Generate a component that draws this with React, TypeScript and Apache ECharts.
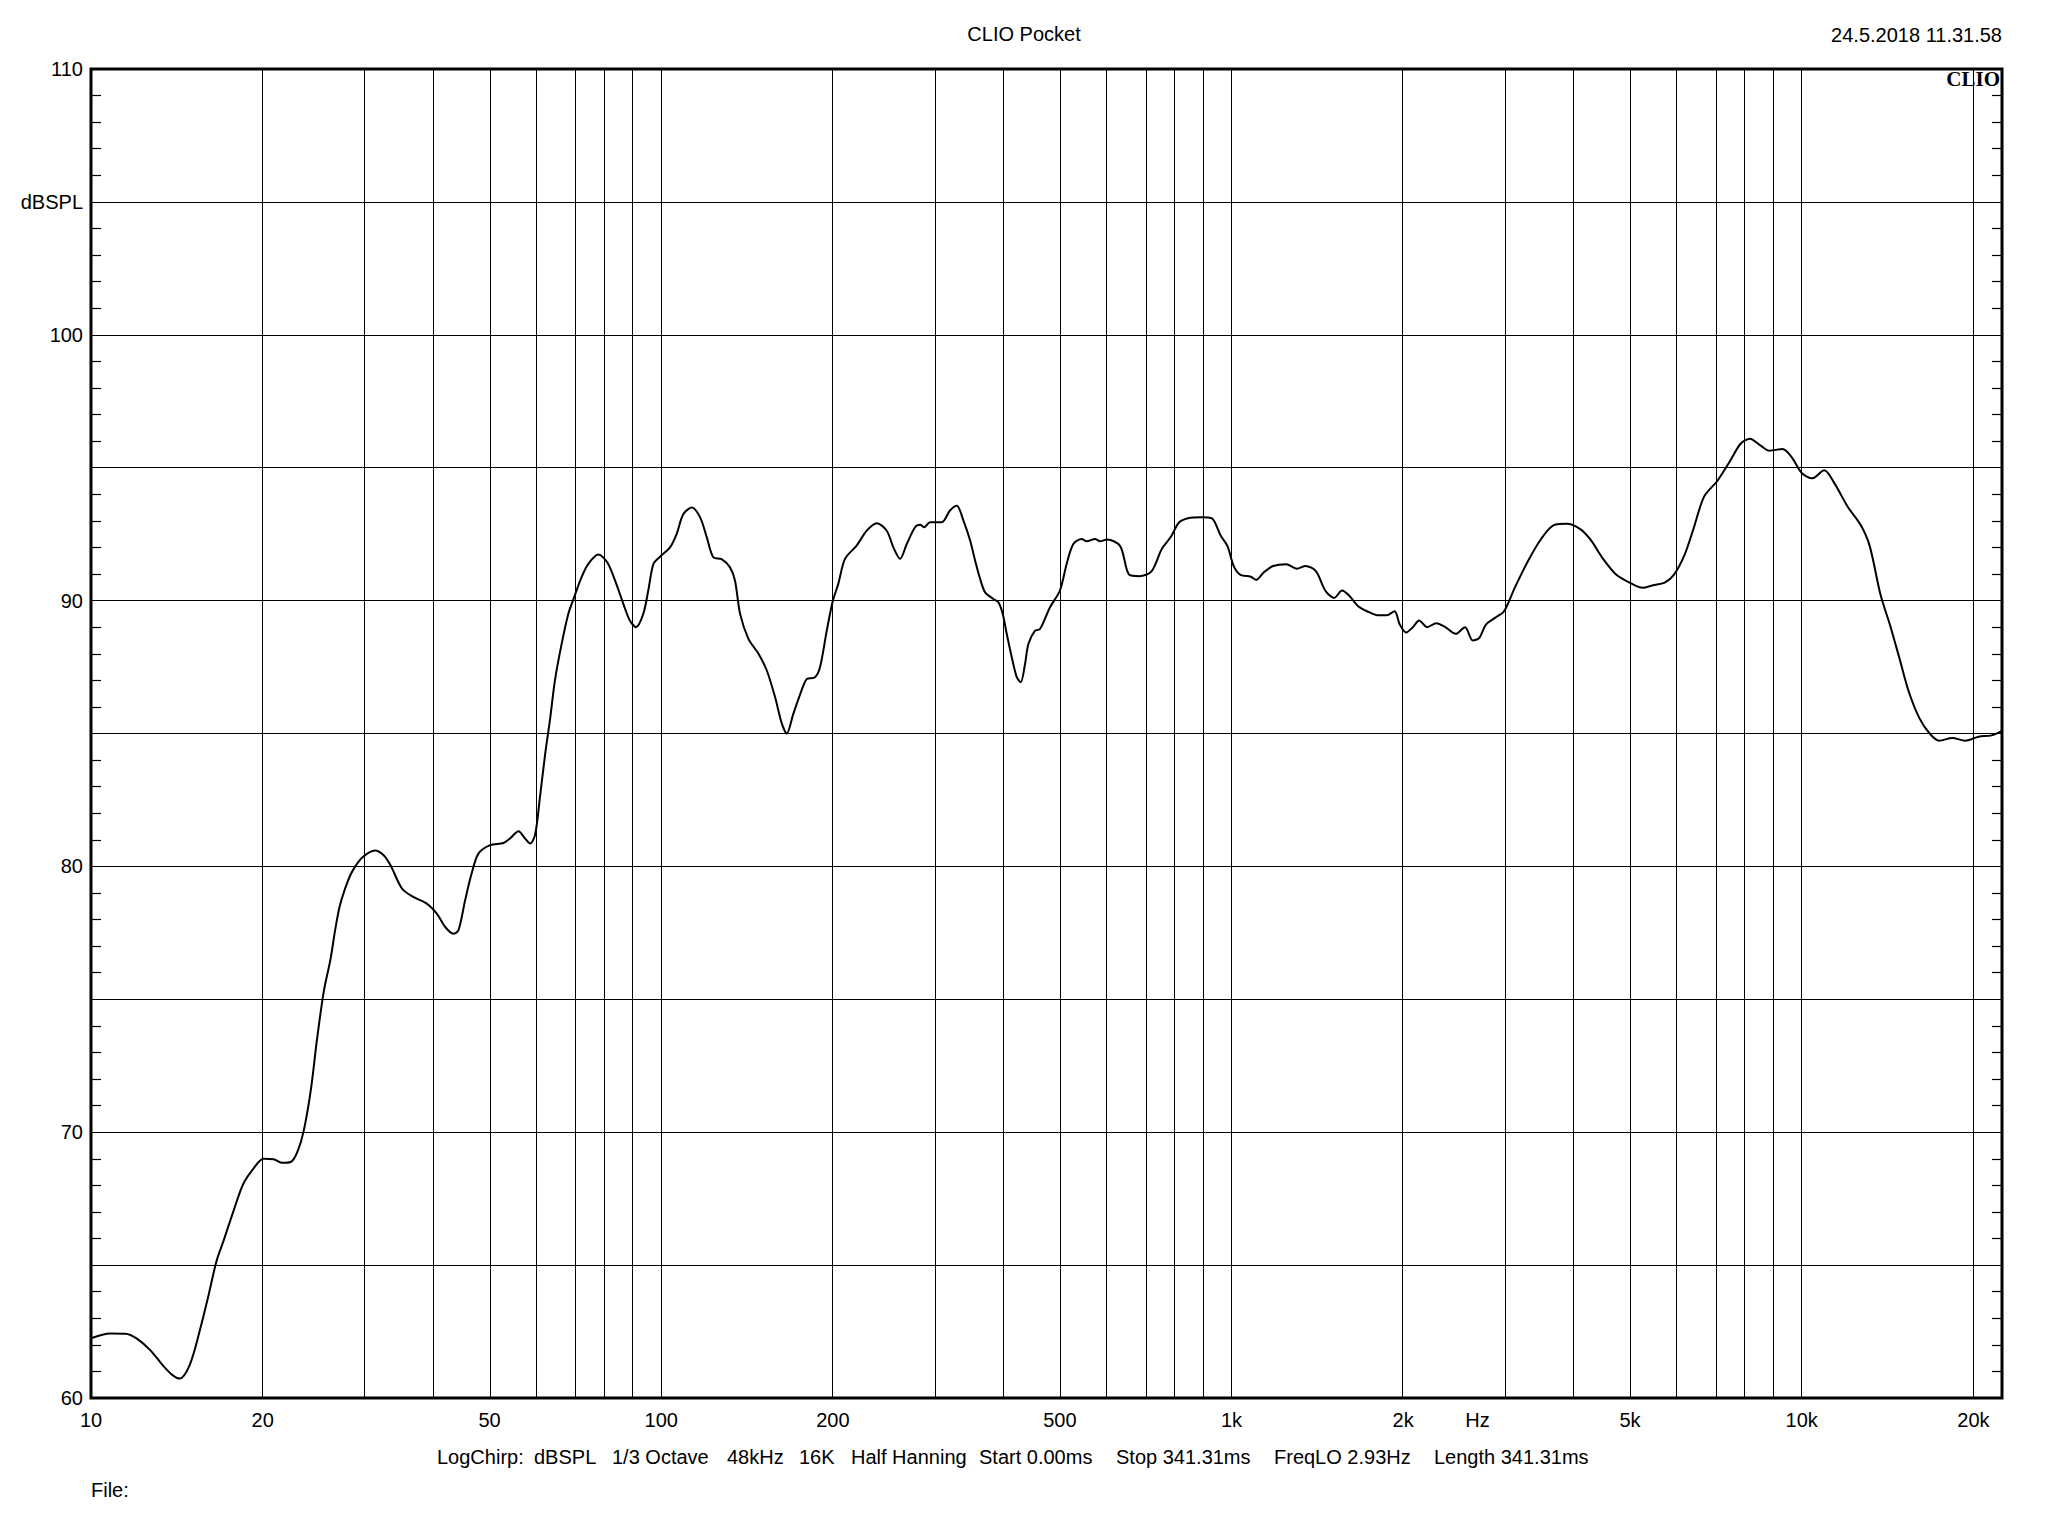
import React, { useEffect, useRef } from "react";
import * as echarts from "echarts";

// ---- data ----
const FREQ = [
  10, 10.8, 11.5, 12.0, 12.7, 13.4, 13.9, 14.3, 14.9, 15.5, 16.06, 16.6, 17.07, 17.8, 18.5, 19.3,
  20.06, 20.9, 21.6, 22.4, 23.0, 23.6, 24.3, 24.9, 25.6, 26.3, 26.8, 27.3, 28.1, 28.8, 30.0, 31.5,
  32.6, 33.5, 35.1, 36.75, 38.8, 40.4, 41.8, 43.2, 44.1, 45.3, 46.5, 47.8, 50.1, 52.9, 54.3, 56.2,
  57.7, 58.9, 60.1, 61.3, 62.6, 63.8, 65.1, 66.9, 68.7, 70.0, 72.5, 74.5, 77.6, 80.4, 83.0, 85.8,
  88.1, 90.3, 93.0, 94.9, 96.9, 99.5, 103.6, 106.4, 109.3, 113.1, 117, 120.2, 123.4, 127.6, 132,
  134.7, 137.5, 142.2, 148.1, 153.1, 158.3, 162.7, 166, 170.5, 177.5, 180, 186.1, 189.9, 195.1,
  200, 204.4, 210, 220.1, 229.3, 238.8, 248.6, 255.3, 262.3, 269.5, 278.7, 284.4, 289, 296.1,
  310.4, 320.9, 329.8, 338.8, 348.1, 355.2, 362.4, 369.8, 382.4, 390.2, 397.1, 403.5, 411.8,
  420.2, 427, 434.5, 440.4, 452.4, 461.6, 480.6, 500.2, 514, 528, 546.2, 557.3, 576.4, 588.2,
  605, 638, 662, 690, 724, 755, 783, 809, 839, 885, 923, 957, 984, 1009, 1037, 1081, 1104, 1140,
  1183, 1247, 1301, 1349, 1407, 1460, 1514, 1563, 1606, 1666, 1729, 1804, 1871, 1932, 1973, 2025,
  2080, 2134, 2203, 2286, 2371, 2473, 2567, 2650, 2721, 2794, 2898, 3006, 3138, 3308, 3486, 3675,
  3873, 4083, 4259, 4488, 4731, 4988, 5260, 5484, 5750, 5967, 6225, 6459, 6745, 7110, 7487, 7813,
  8110, 8460, 8773, 9253, 9600, 10000, 10440, 10950, 11420, 12040, 12690, 13160, 13740, 14320,
  14860, 15420, 16090, 16790, 17420, 18370, 19370, 20420, 21530, 22450,
];
const SPL = [
  62.25, 62.43, 62.42, 62.25, 61.8, 61.2, 60.86, 60.73, 61.25, 62.5, 63.83, 65.15, 65.9, 67.07, 68.06, 68.65,
  69.0, 68.98, 68.85, 68.88, 69.25, 70.04, 71.6, 73.47, 75.3, 76.5, 77.6, 78.5, 79.35, 79.86, 80.36, 80.6,
  80.42, 80.05, 79.17, 78.85, 78.6, 78.22, 77.72, 77.47, 77.6, 78.73, 79.73, 80.48, 80.8, 80.88, 81.05, 81.32,
  81.05, 80.86, 81.2, 82.63, 84.25, 85.5, 87.0, 88.38, 89.5, 90.0, 90.88, 91.38, 91.73, 91.44, 90.75, 89.88,
  89.25, 89.0, 89.5, 90.38, 91.38, 91.65, 92.0, 92.5, 93.25, 93.5, 93.13, 92.38, 91.63, 91.56, 91.25,
  90.75, 89.5, 88.56, 88.0, 87.38, 86.38, 85.38, 85.0, 85.75, 86.8, 87.05, 87.12, 87.5, 88.87,
  90.0, 90.63, 91.57, 92.07, 92.63, 92.91, 92.63, 92.0, 91.57, 92.13, 92.76, 92.85, 92.76, 92.95,
  92.95, 93.39, 93.57, 93.01, 92.26, 91.5, 90.82, 90.31, 90.06, 89.94, 89.5, 88.75, 87.87,
  87.12, 86.93, 87.62, 88.37, 88.87, 88.93, 89.75, 90.38, 91.38, 92.13, 92.32, 92.23, 92.32, 92.23,
  92.3, 92.05, 90.97, 90.92, 91.1, 91.95, 92.4, 92.94, 93.1, 93.14, 93.1, 92.45, 92.05, 91.3, 90.97, 90.9, 90.78, 91.07,
  91.3, 91.37, 91.2, 91.3, 91.1, 90.38, 90.1, 90.38, 90.2, 89.8, 89.6, 89.45, 89.45, 89.6, 89.1, 88.8,
  89.0, 89.25, 89.0, 89.15, 89.0, 88.75, 89.0, 88.5, 88.6, 89.1, 89.35, 89.6, 90.48, 91.47, 92.3, 92.84,
  92.89, 92.7, 92.3, 91.56, 90.97, 90.68, 90.48, 90.58, 90.68, 90.97, 91.7, 92.7, 93.92, 94.5, 95.25, 95.9,
  96.09, 95.84, 95.64, 95.7, 95.4, 94.8, 94.6, 94.9, 94.4, 93.53, 92.84, 92.05, 90.24, 89.0,
  87.78, 86.55, 85.57, 84.98, 84.73, 84.83, 84.73, 84.88, 84.93, 85.1,
];

const X_MIN_HZ = 10;
const X_MAX_HZ = 22450;
const GRID_FREQS = [
  20, 30, 40, 50, 60, 70, 80, 90, 100,
  200, 300, 400, 500, 600, 700, 800, 900, 1000,
  2000, 3000, 4000, 5000, 6000, 7000, 8000, 9000, 10000, 20000,
];
const X_LABEL_FREQS = [10, 20, 50, 100, 200, 500, 1000, 2000, 2700, 5000, 10000, 20000];
const X_LABEL_TEXTS = ["10", "20", "50", "100", "200", "500", "1k", "2k", "Hz", "5k", "10k", "20k"];

const Y_MIN = 60;
const Y_MAX = 110;
const Y_STEP = 5;
const Y_UNIT_VALUE = 105;
const Y_UNIT_TEXT = "dBSPL";

const TITLE = "CLIO Pocket";
const DATE_TEXT = "24.5.2018 11.31.58";
const LOGO_TEXT = "CLIO";
const INFO_TOKENS = [
  "LogChirp:", "dBSPL", "1/3 Octave", "48kHz", "16K", "Half Hanning",
  "Start 0.00ms", "Stop 341.31ms", "FreqLO 2.93Hz", "Length 341.31ms",
];
const FILE_TEXT = "File:";

// ---- layout (positions, not data) ----
const INFO_X = [437, 534, 612, 727, 799, 851, 979, 1116, 1274, 1434];
const FONT = '"Liberation Sans", Arial, sans-serif';

export default function App() {
  const ref = useRef<HTMLDivElement>(null);

  useEffect(() => {
    document.body.style.margin = "0";
    if (!ref.current) return;
    const chart = echarts.init(ref.current, undefined, { renderer: "svg" });

    const data = FREQ.map((f, i) => [Math.log10(f), SPL[i]]);
    const labelLogs = X_LABEL_FREQS.map((f) => Math.log10(f));

    const txt = (
      text: string,
      x: number,
      y: number,
      align: string,
      font: string
    ) => ({
      type: "text",
      x,
      y,
      silent: true,
      style: {
        text,
        font,
        fill: "#000",
        align,
        verticalAlign: "middle",
        textAlign: align,
        textVerticalAlign: "middle",
      },
    });

    const graphics: any[] = [
      txt(TITLE, 1024, 34, "center", `20px ${FONT}`),
      txt(DATE_TEXT, 2002, 35, "right", `20px ${FONT}`),
      txt(LOGO_TEXT, 2000, 79, "right", `bold 21px "Liberation Serif", "Times New Roman", serif`),
      txt(FILE_TEXT, 91, 1490, "left", `20px ${FONT}`),
      ...INFO_TOKENS.map((t, i) => txt(t, INFO_X[i], 1457, "left", `20px ${FONT}`)),
    ];

    const yAxisBase = {
      type: "value",
      min: Y_MIN,
      max: Y_MAX,
      interval: Y_STEP,
      axisLine: { show: false },
      axisTick: { show: false, inside: true },
      minorTick: {
        show: true,
        splitNumber: 5,
        length: 10,
        lineStyle: { color: "#000", width: 1.2 },
      },
      minorSplitLine: { show: false },
    };

    chart.setOption({
      animation: false,
      backgroundColor: "#fff",
      grid: {
        left: 91,
        right: 46,
        top: 69,
        bottom: 138,
        show: true,
        borderColor: "#000",
        borderWidth: 3,
        backgroundColor: "transparent",
      },
      xAxis: {
        type: "value",
        min: Math.log10(X_MIN_HZ),
        max: Math.log10(X_MAX_HZ),
        axisLine: { show: false },
        axisTick: { show: false },
        splitLine: { show: false },
        axisLabel: {
          customValues: labelLogs,
          margin: 12,
          fontSize: 20,
          fontFamily: FONT,
          color: "#000",
          formatter: (v: number) => {
            let best = 0;
            let bd = Infinity;
            labelLogs.forEach((l, i) => {
              const d = Math.abs(l - v);
              if (d < bd) {
                bd = d;
                best = i;
              }
            });
            return X_LABEL_TEXTS[best];
          },
        },
      },
      yAxis: [
        {
          ...yAxisBase,
          position: "left",
          splitLine: { show: true, lineStyle: { color: "#000", width: 1 } },
          axisLabel: {
            margin: 8,
            fontSize: 20,
            fontFamily: FONT,
            color: "#000",
            formatter: (v: number) => {
              if (Math.abs(v - Y_UNIT_VALUE) < 1e-6) return Y_UNIT_TEXT;
              return Math.round(v) % 10 === 0 ? String(Math.round(v)) : "";
            },
          },
        },
        {
          ...yAxisBase,
          position: "right",
          splitLine: { show: false },
          axisLabel: { show: false },
        },
      ],
      series: [
        {
          type: "line",
          data,
          showSymbol: false,
          symbol: "none",
          smooth: 0.3,
          silent: true,
          lineStyle: { color: "#000", width: 2 },
          markLine: {
            silent: true,
            symbol: ["none", "none"],
            label: { show: false },
            lineStyle: { color: "#000", width: 1, type: "solid" },
            emphasis: { disabled: true },
            data: GRID_FREQS.map((f) => ({ xAxis: Math.log10(f) })),
          },
        },
      ],
      graphic: graphics,
    });

    return () => chart.dispose();
  }, []);

  return (
    <div
      ref={ref}
      style={{ width: 2048, height: 1536, overflow: "hidden", background: "#fff" }}
    />
  );
}
